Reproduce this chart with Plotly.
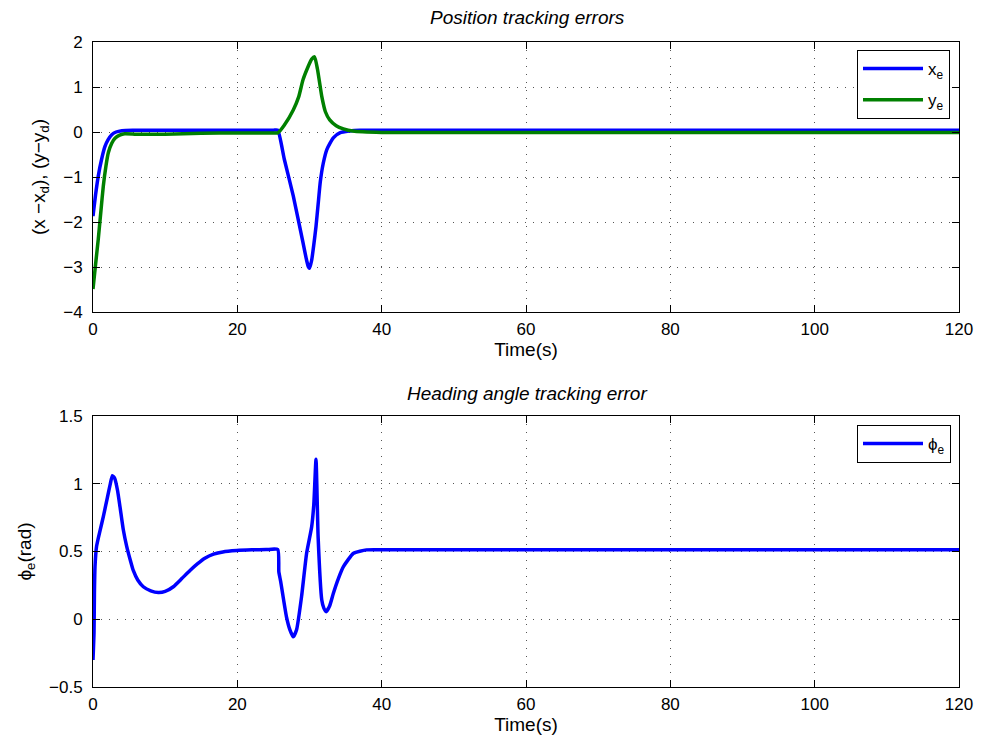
import plotly.graph_objects as go

# ---- data ----
t_x = [0, 0.35, 0.73, 1.2, 1.66, 2.1, 2.6, 3.2, 4.0, 5.5, 8, 12, 17, 21, 25.0, 25.6, 26.5, 27.75, 29.1, 29.6, 29.85,
       30.0, 30.3, 30.6, 30.9, 31.2, 31.5, 31.9, 32.4, 33.3, 34.2, 35.5, 37, 40, 50, 65, 80, 100, 120]
x_e = [-1.87, -1.4, -0.98, -0.6, -0.32, -0.17, -0.06, 0.0, 0.03, 0.04, 0.04, 0.04, 0.04, 0.04, 0.04, 0.04, -0.6,
       -1.42, -2.46, -2.85, -3.0, -3.03, -2.85, -2.5, -2.1, -1.6, -1.1, -0.7, -0.39, -0.13, -0.02, 0.02, 0.04,
       0.04, 0.04, 0.04, 0.04, 0.04, 0.04]

t_y = [0, 0.35, 0.73, 1.1, 1.43, 1.8, 2.12, 2.6, 3.05, 3.7, 4.4, 6, 10, 15, 20, 25.0, 25.6, 26.5, 27.75, 28.5,
       29.1, 29.8, 30.3, 30.7, 31.1, 31.7, 32.2, 32.8, 33.7, 34.7, 36, 40, 50, 65, 80, 100, 120]
y_e = [-3.49, -2.95, -2.38, -1.75, -1.2, -0.75, -0.46, -0.25, -0.14, -0.07, -0.04, -0.05, -0.05, -0.03, -0.02,
       -0.02, -0.02, 0.15, 0.49, 0.78, 1.16, 1.45, 1.62, 1.67, 1.4, 0.79, 0.45, 0.27, 0.14, 0.07, 0.02, -0.01,
       -0.01, -0.01, -0.01, -0.01, -0.01]

t_phi = [0, 0.14, 0.2, 0.28, 0.5, 1.0, 1.43, 2.0, 2.4, 2.68, 3.0, 3.4, 3.74, 4.2, 4.66, 5.2, 5.58, 6.2, 6.97,
         8.0, 9.05, 10.0, 11.13, 12.3, 13.44, 14.5, 15.5, 16.7, 18.0, 19.9, 22, 24, 25.6, 25.75, 26.0, 26.8,
         27.3, 27.75, 28.2, 28.9, 29.6, 30.3, 30.6, 30.9, 31.2, 31.7, 32.0, 32.3, 32.8, 33.3, 34.0, 34.7, 36.1,
         37.9, 40, 50, 65, 80, 100, 120]
phi_e = [-0.3, -0.1, 0.2, 0.39, 0.54, 0.66, 0.757, 0.9, 1.0, 1.06, 1.04, 0.95, 0.83, 0.66, 0.54, 0.43, 0.36,
         0.29, 0.24, 0.21, 0.197, 0.205, 0.24, 0.3, 0.36, 0.41, 0.45, 0.48, 0.497, 0.507, 0.512, 0.514, 0.515,
         0.35, 0.28, 0.02, -0.08, -0.13, -0.08, 0.167, 0.487, 0.683, 0.85, 1.18, 0.6, 0.142, 0.08, 0.056, 0.1,
         0.19, 0.3, 0.388, 0.487, 0.512, 0.513, 0.513, 0.513, 0.513, 0.513, 0.513]

x_ticks = [0, 20, 40, 60, 80, 100, 120]
top_yticks = [-4, -3, -2, -1, 0, 1, 2]
bot_yticks = [-0.5, 0, 0.5, 1, 1.5]

W, H = 981, 740
FONT = "Liberation Sans, Arial, Helvetica, sans-serif"

fig = go.Figure()
fig.add_trace(go.Scatter(x=t_x, y=x_e, mode="lines", name="x<sub>e</sub>", legendgroup="a",
                         line=dict(color="#0000ff", width=3.5, shape="spline", smoothing=0.5),
                         xaxis="x", yaxis="y", legend="legend"))
fig.add_trace(go.Scatter(x=t_y, y=y_e, mode="lines", name="y<sub>e</sub>", legendgroup="b",
                         line=dict(color="#008000", width=3.5, shape="spline", smoothing=0.5),
                         xaxis="x", yaxis="y", legend="legend"))
fig.add_trace(go.Scatter(x=t_phi, y=phi_e, mode="lines", name="ϕ<sub>e</sub>",
                         line=dict(color="#0000ff", width=3.5, shape="spline", smoothing=0.5),
                         xaxis="x2", yaxis="y2", legend="legend2"))

xdom = [93 / W, 959 / W]
top_dom = [1 - 312 / H, 1 - 42 / H]
bot_dom = [1 - 687 / H, 1 - 416 / H]

axcommon = dict(showline=True, linecolor="black", linewidth=1, mirror="ticks", ticks="inside",
                ticklen=7, tickcolor="black", showgrid=True, gridcolor="#555", griddash="1px,7px",
                gridwidth=1, zeroline=False, tickfont=dict(size=17, color="black", family=FONT))

fig.update_layout(
    width=W, height=H, margin=dict(l=0, r=0, t=0, b=0, autoexpand=False),
    paper_bgcolor="white", plot_bgcolor="white",
    font=dict(family=FONT, color="black"),
    xaxis=dict(domain=xdom, anchor="y", range=[0, 120], tickvals=x_ticks, ticklabelstandoff=2,
               title=dict(text="Time(s)", font=dict(size=19), standoff=2), **axcommon),
    yaxis=dict(domain=top_dom, anchor="x", range=[-4, 2], tickvals=top_yticks, ticklabelstandoff=6,
               title=dict(text="(x −x<sub>d</sub>), (y−y<sub>d</sub>)", font=dict(size=19), standoff=12), **axcommon),
    xaxis2=dict(domain=xdom, anchor="y2", range=[0, 120], tickvals=x_ticks, ticklabelstandoff=2,
                title=dict(text="Time(s)", font=dict(size=19), standoff=0), **axcommon),
    yaxis2=dict(domain=bot_dom, anchor="x2", range=[-0.5, 1.5], tickvals=bot_yticks, ticklabelstandoff=6,
                title=dict(text="ϕ<sub>e</sub>(rad)", font=dict(size=19), standoff=12), **axcommon),
    legend=dict(x=950 / W, y=1 - 50 / H, xanchor="right", yanchor="top", bgcolor="white",
                bordercolor="black", borderwidth=1, font=dict(size=17), itemwidth=60,
                tracegroupgap=6),
    legend2=dict(x=951 / W, y=1 - 425 / H, xanchor="right", yanchor="top", bgcolor="white",
                 bordercolor="black", borderwidth=1, font=dict(size=17), itemwidth=60),
    annotations=[
        dict(text="<i>Position tracking errors</i>", x=527 / W, y=1 - 18 / H, xref="paper", yref="paper",
             yanchor="middle", showarrow=False, font=dict(size=19)),
        dict(text="<i>Heading angle tracking error</i>", x=527 / W, y=1 - 393 / H, xref="paper", yref="paper",
             yanchor="middle", showarrow=False, font=dict(size=19)),
    ],
    showlegend=True,
)

fig.write_html("out.html", post_script="document.body.style.margin='0';document.body.style.overflow='hidden';")
